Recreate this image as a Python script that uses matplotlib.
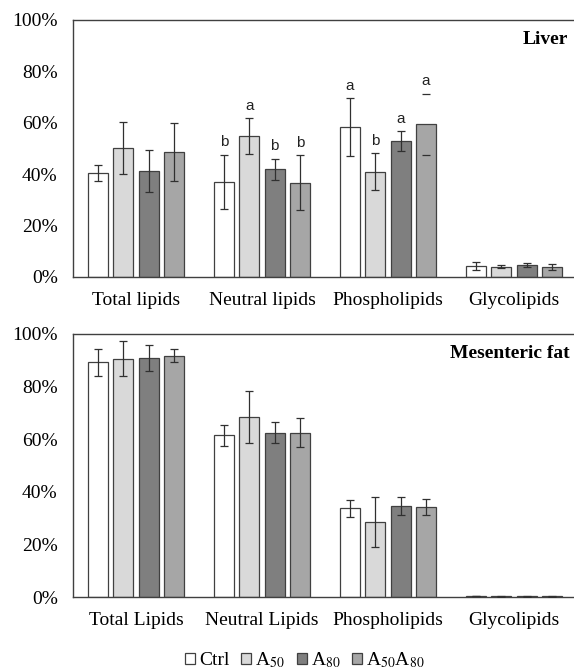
import matplotlib
matplotlib.use("Agg")
import matplotlib.pyplot as plt
import numpy as np
from matplotlib.patches import Patch

plt.rcParams['mathtext.fontset'] = 'stix'

groups = ["Ctrl", "A$_{50}$", "A$_{80}$", "A$_{50}$A$_{80}$"]
colors = ["#ffffff", "#d9d9d9", "#7f7f7f", "#a6a6a6"]

liver_cats = ["Total lipids", "Neutral lipids", "Phospholipids", "Glycolipids"]
liver_vals = [
    [40.5, 37.1, 58.2, 4.4],
    [50.3, 54.9, 40.9, 4.0],
    [41.2, 41.9, 52.9, 4.8],
    [48.8, 36.7, 59.4, 3.8],
]
liver_err = [
    [3.1, 10.5, 11.3, 1.5],
    [10.2, 6.9, 7.2, 0.6],
    [8.2, 4.0, 3.8, 0.8],
    [11.3, 10.7, 11.8, 1.1],
]
liver_letters = [
    ["", "b", "a", ""],
    ["", "a", "b", ""],
    ["", "b", "a", ""],
    ["", "b", "a", ""],
]

mes_cats = ["Total Lipids", "Neutral Lipids", "Phospholipids", "Glycolipids"]
mes_vals = [
    [89.2, 61.5, 33.7, 0.4],
    [90.6, 68.4, 28.5, 0.2],
    [91.0, 62.5, 34.6, 0.2],
    [91.8, 62.5, 34.3, 0.2],
]
mes_err = [
    [5.0, 3.9, 3.3, 0.1],
    [6.7, 9.8, 9.5, 0.05],
    [5.0, 4.1, 3.4, 0.05],
    [2.4, 5.4, 3.0, 0.05],
]

W, H = 574, 671
fig = plt.figure(figsize=(W/100, H/100), dpi=100)

def px_axes(left, top, right, bottom):
    return fig.add_axes([left/W, 1-bottom/H, (right-left)/W, (bottom-top)/H])

ax1 = px_axes(73, 20, 577, 277)
ax2 = px_axes(73, 334, 577, 597)

serif = ['Liberation Serif', 'DejaVu Serif']
step = 0.201
bw = 0.159
edge = "#404040"

def draw(ax, cats, vals, errs, letters, no_eline=None):
    x = np.arange(len(cats))
    for i in range(4):
        xi = x + (i - 1.5) * step
        ax.bar(xi, vals[i], width=bw, color=colors[i], edgecolor=edge, linewidth=0.9, zorder=2)
        for j in range(len(cats)):
            elw = 0 if (no_eline and (i, j) in no_eline) else 0.9
            ax.errorbar(xi[j], vals[i][j], yerr=errs[i][j], fmt='none', ecolor="#303030",
                        elinewidth=elw, capsize=3, capthick=0.9, zorder=3)
            if letters and letters[i][j]:
                ax.annotate(letters[i][j], (xi[j], vals[i][j] + errs[i][j]),
                            xytext=(0, 4), textcoords='offset points', ha='center', va='bottom',
                            fontsize=11, family='Liberation Sans', color="#222222")
    ax.set_xlim(-0.5, 3.5)
    ax.set_ylim(0, 100)
    ax.set_yticks([0, 20, 40, 60, 80, 100])
    ax.set_yticklabels([f"{v}%" for v in [0, 20, 40, 60, 80, 100]], family=serif, fontsize=14)
    ax.set_xticks(x)
    ax.set_xticklabels(cats, family=serif, fontsize=14)
    ax.tick_params(axis='y', length=0, pad=11)
    ax.tick_params(axis='x', length=0, pad=11)
    for s in ax.spines.values():
        s.set_color(edge)
        s.set_linewidth(1.0)
    return ax

draw(ax1, liver_cats, liver_vals, liver_err, liver_letters, no_eline={(3, 2)})
draw(ax2, mes_cats, mes_vals, mes_err, None)

fig.text(568/W, 1-40/H, "Liver", family=serif, fontsize=14, fontweight='bold', ha='right', va='center')
fig.text(570/W, 1-354/H, "Mesenteric fat", family=serif, fontsize=14, fontweight='bold', ha='right', va='center')

handles = [Patch(facecolor=c, edgecolor=edge, linewidth=0.9) for c in colors]
fig.legend(handles, groups, loc='center', bbox_to_anchor=(305/W, 1-660/H), ncol=4, frameon=False,
           prop={'family': serif, 'size': 14}, handlelength=0.52, handleheight=0.52,
           handletextpad=0.2, columnspacing=0.6)

fig.savefig("out.png", dpi=100)
